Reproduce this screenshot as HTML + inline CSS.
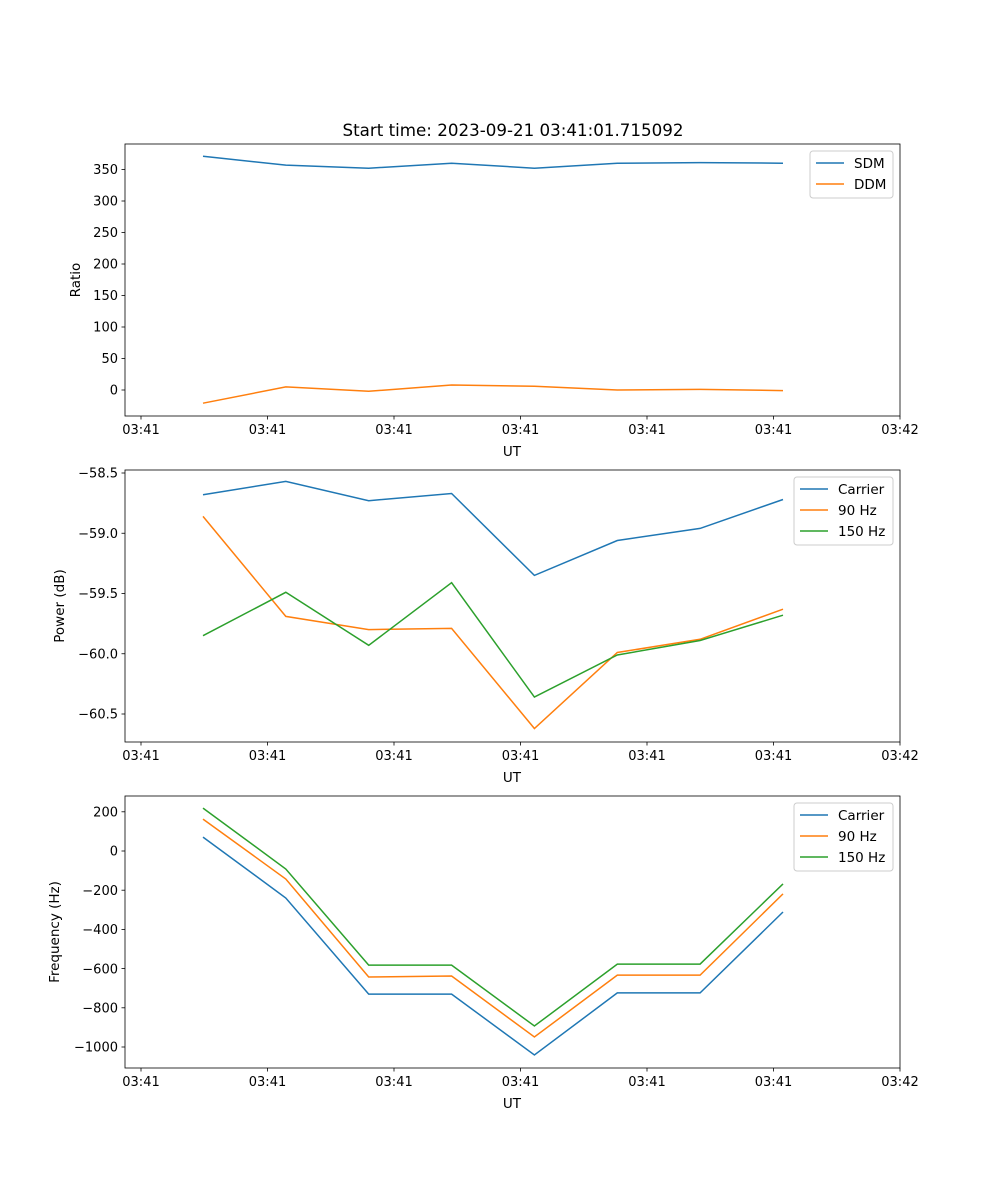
<!DOCTYPE html>
<html><head><meta charset="utf-8"><style>
body{margin:0;background:#fff}
svg{display:block;font-family:"DejaVu Sans","Liberation Sans",sans-serif}
</style></head><body>
<svg id="fig" width="1000" height="1200" viewBox="0 0 1000 1200"></svg>
<script>
const times=[0.49,1.145,1.80,2.455,3.11,3.765,4.42,5.075];
const xTickVals=[0,1,2,3,4,5,6];
const xTickLabels=["03:41","03:41","03:41","03:41","03:41","03:41","03:42"];
const sdm=[371,357,352,360,352,360,361,360];
const ddm=[-21,5,-2,8,6,0,1,-1];
const pCarrier=[-58.68,-58.57,-58.73,-58.67,-59.35,-59.06,-58.96,-58.72];
const p90=[-58.86,-59.69,-59.80,-59.79,-60.62,-59.99,-59.88,-59.63];
const p150=[-59.85,-59.49,-59.93,-59.41,-60.36,-60.01,-59.89,-59.68];
const fCarrier=[71,-240,-730,-730,-1041,-724,-724,-311];
const f90=[163,-143,-643,-638,-949,-633,-633,-219];
const f150=[219,-92,-582,-582,-893,-577,-577,-168];
const ticks1=[0,50,100,150,200,250,300,350];
const ticks2=[-58.5,-59.0,-59.5,-60.0,-60.5];
const ticks3=[200,0,-200,-400,-600,-800,-1000];
const C=["#1f77b4","#ff7f0e","#2ca02c"];
const NS="http://www.w3.org/2000/svg";
const svg=document.getElementById('fig');
function mk(t,a,txt){const e=document.createElementNS(NS,t);for(const k in a)e.setAttribute(k,a[k]);if(txt!==undefined)e.textContent=txt;svg.appendChild(e);return e;}
const X0=125,X1=900;
const xs=t=>141+t*126.5;
function panel(name,top,bot,yv0,yp0,yv1,yp1,ticks,fmt,ylabel,ylx,series,legend){
  const ys=v=>yp0+(v-yv0)*(yp1-yp0)/(yv1-yv0);
  series.forEach((s,i)=>{
    const d=s.vals.map((v,j)=>(j?'L':'M')+xs(times[j]).toFixed(1)+','+ys(v).toFixed(1)).join(' ');
    const p=mk('path',{d:d,fill:'none',stroke:C[i],'stroke-width':1.5});
    
    
  });
  const f=mk('rect',{x:X0,y:top,width:X1-X0,height:bot-top,fill:'none',stroke:'#000','stroke-width':0.8});
  
  xTickVals.forEach((t,i)=>{
    const x=xs(t);
    mk('line',{x1:x,x2:x,y1:bot,y2:bot+3.5,stroke:'#000','stroke-width':0.8});
    const tl=mk('text',{x:x,y:bot+18,'font-size':13,'text-anchor':'middle'},xTickLabels[i]);
    
  });
  const xl=mk('text',{x:512,y:bot+40,'font-size':13.5,'text-anchor':'middle'},'UT');
  
  ticks.forEach(v=>{
    const y=ys(v);
    mk('line',{x1:X0-3.5,x2:X0,y1:y,y2:y,stroke:'#000','stroke-width':0.8});
    const tl=mk('text',{x:X0-7,y:y+4.7,'font-size':13,'text-anchor':'end'},fmt(v));
    
  });
  const yl=mk('text',{x:ylx,y:(top+bot)/2,'font-size':13.5,'text-anchor':'middle',transform:`rotate(-90 ${ylx} ${(top+bot)/2})`},ylabel);
  
  const lb=mk('rect',{x:legend.x,y:top+7,width:legend.w,height:5+series.length*21,rx:3,fill:'#fff','fill-opacity':0.8,stroke:'#ccc','stroke-width':1});
  
  series.forEach((s,i)=>{
    const y=top+19+i*21;
    mk('line',{x1:legend.x+6,x2:legend.x+34,y1:y,y2:y,stroke:C[i],'stroke-width':1.5});
    const t=mk('text',{x:legend.x+44,y:y+5,'font-size':13.5},s.label);
    
  });
}
const tt=mk('text',{x:513,y:136,'font-size':16.7,'text-anchor':'middle'},'Start time: 2023-09-21 03:41:01.715092');

panel('ratio-panel',144,416,0,390,350,169.5,ticks1,v=>String(v),'Ratio',80,
 [{key:'sdm',label:'SDM',vals:sdm},{key:'ddm',label:'DDM',vals:ddm}],{x:810,w:83});
panel('power-panel',470,742,-58.5,473,-60.5,714,ticks2,v=>(v<0?'\u2212':'')+Math.abs(v).toFixed(1),'Power (dB)',64,
 [{key:'carrier',label:'Carrier',vals:pCarrier},{key:'90hz',label:'90 Hz',vals:p90},{key:'150hz',label:'150 Hz',vals:p150}],{x:794,w:99});
panel('frequency-panel',796,1068,0,851,-1000,1047,ticks3,v=>(v<0?'\u2212':'')+Math.abs(v),'Frequency (Hz)',59,
 [{key:'carrier',label:'Carrier',vals:fCarrier},{key:'90hz',label:'90 Hz',vals:f90},{key:'150hz',label:'150 Hz',vals:f150}],{x:794,w:99});
</script>
</body></html>
